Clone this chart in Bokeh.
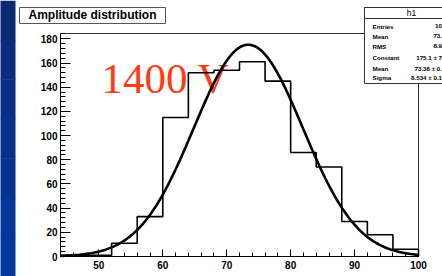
import numpy as np
from bokeh.plotting import figure
from bokeh.models import Range1d, SingleIntervalTicker, Label, LinearAxis
from bokeh.core.properties import value
from bokeh.embed import file_html
from bokeh.resources import INLINE

# ---- data ----
bin_edges = [44, 48, 52, 56, 60, 64, 68, 72, 76, 80, 84, 88, 92, 96, 100]
bin_counts = [1, 1, 11, 33, 115, 152, 154, 161, 145, 86, 74, 29, 18, 6]
fit_constant = 175.1
fit_mean = 73.38
fit_sigma = 8.534
title_text = "Amplitude distribution"
stats_title = "h1"
stat_names = ["Entries", "Mean", "RMS", "Constant", "Mean", "Sigma"]
stat_values = ["10", "73.", "8.9", "175.1 ± 7", "73.38 ± 0.", "8.534 ± 0.1"]
annotation_text = "1400 V"

# ---- layout (page pixels) ----
W, H = 442, 276
X0, X1 = 44, 100
Y0, Y1 = 0, 184.4
FL, FR, FT, FB = 60, 418, 33, 256   # ROOT frame edges in page pixels


def dx(px):
    return X0 + (px - FL) * (X1 - X0) / (FR - FL)


def dy(py):
    return Y0 + (FB - py) * (Y1 - Y0) / (FB - FT)


p = figure(width=W, height=H, output_backend="svg", toolbar_location=None,
           x_range=Range1d(dx(0), dx(W)), y_range=Range1d(dy(H), dy(0)),
           x_axis_location=None, y_axis_location=None, min_border=0)
p.background_fill_color = "white"
p.border_fill_color = "white"
p.outline_line_color = None
p.grid.visible = False

xaxis = LinearAxis(fixed_location=Y0, bounds=(X0, X1),
                   ticker=SingleIntervalTicker(interval=10, num_minor_ticks=5))
yaxis = LinearAxis(fixed_location=X0, bounds=(Y0, Y1),
                   ticker=SingleIntervalTicker(interval=20, num_minor_ticks=5))
for ax, tin, mtin, stand in ((xaxis, 7, 4, 4), (yaxis, 10, 5, 3)):
    ax.major_tick_in = tin
    ax.major_tick_out = 0
    ax.minor_tick_in = mtin
    ax.minor_tick_out = 0
    ax.axis_line_color = "black"
    ax.major_tick_line_color = "black"
    ax.minor_tick_line_color = "black"
    ax.major_label_text_font = "Liberation Sans"
    ax.major_label_text_font_style = "bold"
    ax.major_label_text_font_size = "10px"
    ax.major_label_text_color = "black"
    ax.major_label_standoff = stand
p.add_layout(xaxis, "below")
p.add_layout(yaxis, "left")

# blue slide strip on the left
blues = ["#0b2a72", "#0a2c7a", "#082f83", "#07318b", "#053392", "#043598", "#03379e"]
n = len(blues)
band_tops = [dy(i * H / n) for i in range(n)]
band_bots = [dy((i + 1) * H / n + 0.5) for i in range(n)]
p.quad(left=[dx(-2)] * n, right=[dx(15)] * n, top=band_tops, bottom=band_bots,
       fill_color=blues, line_color=None)

# "1400 V" (drawn beneath the lines)
p.text(x=[dx(101)], y=[dy(78)], text=[annotation_text], text_font=value("Liberation Serif"),
       text_font_size="43px", text_color="#ff3b14", text_baseline="middle", text_align="left")

# ROOT frame top / right edges
p.segment(x0=[X0, X1], y0=[Y1, Y0], x1=[X1, X1], y1=[Y1, Y1], line_color="#333333", line_width=1)

# histogram outline
step_y = bin_counts + [bin_counts[-1]]
p.step(x=bin_edges, y=step_y, mode="after", line_color="black", line_width=1.6)
p.segment(x0=[bin_edges[-1]], y0=[bin_counts[-1]], x1=[bin_edges[-1]], y1=[0],
          line_color="black", line_width=1.6)

# gaussian fit
gx = np.linspace(X0, X1, 400)
gy = fit_constant * np.exp(-0.5 * ((gx - fit_mean) / fit_sigma) ** 2)
p.line(gx, gy, line_color="black", line_width=2.6)

# title box
p.quad(left=[dx(19)], right=[dx(165)], top=[dy(7)], bottom=[dy(23)],
       fill_color="white", line_color="#555555", line_width=1)
p.add_layout(Label(x=dx(28), y=dy(14.8), text=title_text, text_font="Liberation Sans",
                   text_font_style="bold", text_font_size="12px", text_baseline="middle",
                   text_color="black"))

# stats box
p.quad(left=[dx(364), dx(364)], right=[dx(480), dx(480)], top=[dy(7), dy(7)],
       bottom=[dy(83), dy(18)], fill_color="white", line_color="#333333", line_width=1)
p.add_layout(Label(x=dx(411), y=dy(12.5), text=stats_title, text_font="Liberation Sans",
                   text_font_size="8.5px", text_align="center", text_baseline="middle",
                   text_color="black"))
row_py = [25.7, 35.7, 45.7, 56.7, 67.7, 77.2]
for name, val, ry in zip(stat_names, stat_values, row_py):
    p.add_layout(Label(x=dx(372), y=dy(ry), text=name, text_font="Liberation Sans",
                       text_font_style="bold", text_font_size="6.2px", text_baseline="middle",
                       text_color="black"))
    p.add_layout(Label(x=dx(441.5), y=dy(ry), text=val, text_font="Liberation Sans",
                       text_font_style="bold", text_font_size="6.2px", text_baseline="middle",
                       text_align="right", text_color="black"))

open("out.html", "w").write(file_html(p, INLINE))
